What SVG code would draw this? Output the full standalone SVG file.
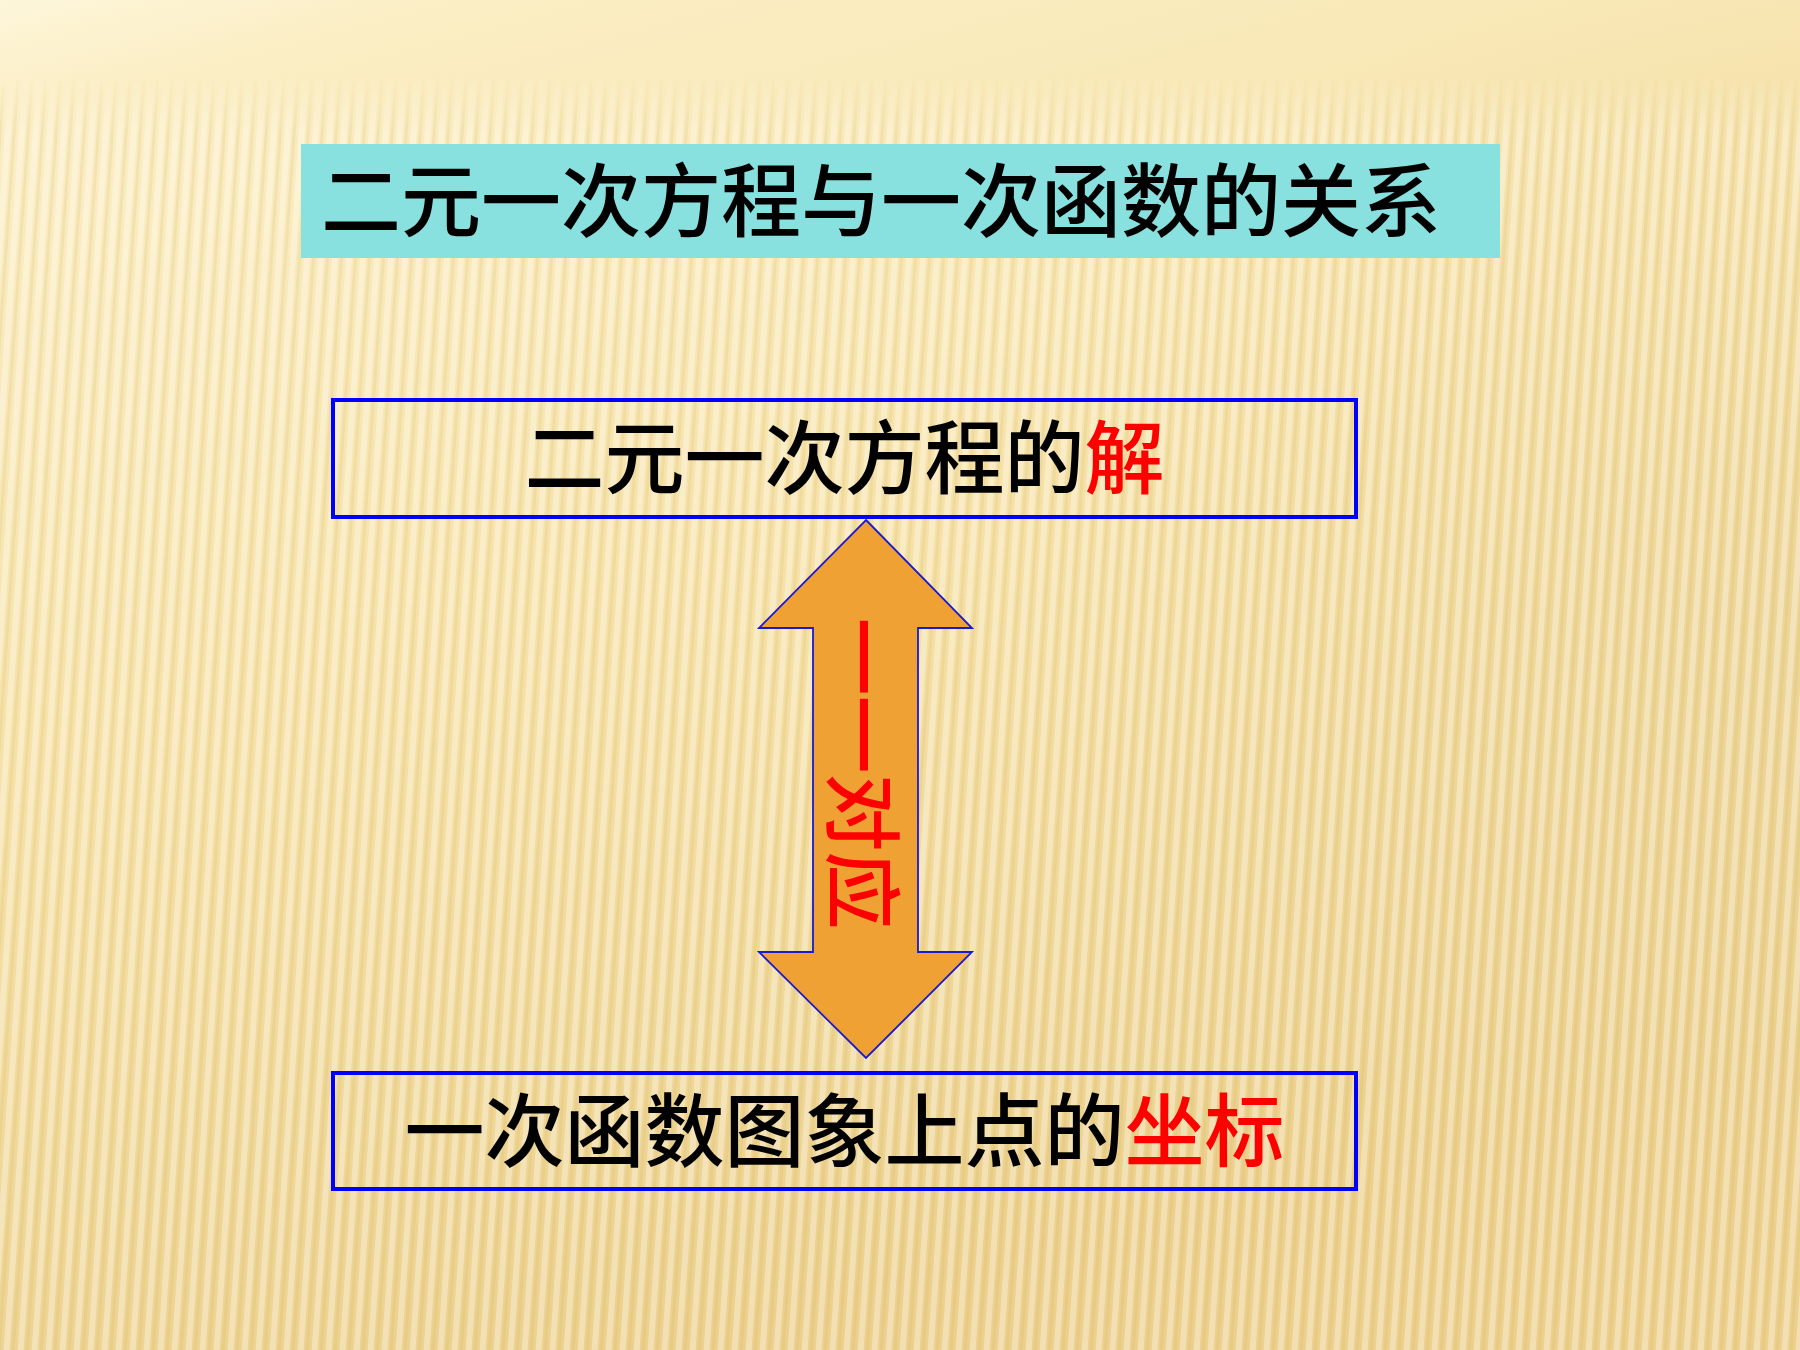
<svg xmlns="http://www.w3.org/2000/svg" width="1800" height="1350" viewBox="0 0 1800 1350">
  <style>
    .cjk { font-family: "Noto Sans CJK SC", "Noto Sans", sans-serif; font-weight: 500; font-size: 80px; }
    .blk { fill: #000000; }
    .red { fill: #ff0000; }
    .box { fill: none; stroke: #0000ff; stroke-width: 4; }
  </style>
  <defs>
    <linearGradient id="bg" x1="0" y1="0" x2="0.35" y2="1">
      <stop offset="0" stop-color="#fdf6da"/>
      <stop offset="0.08" stop-color="#fbeec4"/>
      <stop offset="0.5" stop-color="#f6e2a8"/>
      <stop offset="1" stop-color="#ecd08c"/>
    </linearGradient>
    <radialGradient id="glow" cx="1.05" cy="0.45" r="0.5">
      <stop offset="0" stop-color="#e8cf90" stop-opacity="0.5"/>
      <stop offset="1" stop-color="#e8cf90" stop-opacity="0"/>
    </radialGradient>
    <pattern id="stripes" width="14" height="40" patternUnits="userSpaceOnUse" patternTransform="skewX(-4)">
      <rect x="0" y="0" width="6" height="40" fill="#ffffff" fill-opacity="0.35"/>
      <rect x="8" y="0" width="3" height="40" fill="#c9a860" fill-opacity="0.14"/>
    </pattern>
    <linearGradient id="fade" x1="0" y1="0" x2="0" y2="1">
      <stop offset="0" stop-color="#000"/>
      <stop offset="0.055" stop-color="#000"/>
      <stop offset="0.1" stop-color="#fff"/>
      <stop offset="1" stop-color="#fff"/>
    </linearGradient>
    <mask id="m">
      <rect width="1800" height="1350" fill="url(#fade)"/>
    </mask>
  </defs>

  <g id="background">
    <rect width="1800" height="1350" fill="url(#bg)"/>
    <rect width="1800" height="1350" fill="url(#glow)"/>
    <rect width="1800" height="1350" fill="url(#stripes)" mask="url(#m)"/>
  </g>

  <g id="title">
    <rect x="301" y="144" width="1199" height="114" fill="#88e1df"/>
    <text class="cjk blk" x="321" y="230">二元一次方程与一次函数的关系</text>
  </g>

  <g id="connectors">
    <polygon points="866,520 972,628 918,628 918,952 972,952 866,1058 759,952 813,952 813,628 759,628" fill="#efa233" stroke="#1a1ad0" stroke-width="1.8" stroke-linejoin="miter"/>
    <text class="cjk red" text-anchor="middle" transform="translate(861,773.5) rotate(90)" x="0" y="28" style="font-size:78px">一一对应</text>
  </g>

  <g id="node-solution">
    <rect class="box" x="333" y="400" width="1023" height="117"/>
    <text class="cjk" x="844.5" y="487" text-anchor="middle"><tspan class="blk">二元一次方程的</tspan><tspan class="red">解</tspan></text>
  </g>

  <g id="node-coordinates">
    <rect class="box" x="333" y="1073" width="1023" height="116"/>
    <text class="cjk" x="844.5" y="1160" text-anchor="middle"><tspan class="blk">一次函数图象上点的</tspan><tspan class="red">坐标</tspan></text>
  </g>
</svg>
